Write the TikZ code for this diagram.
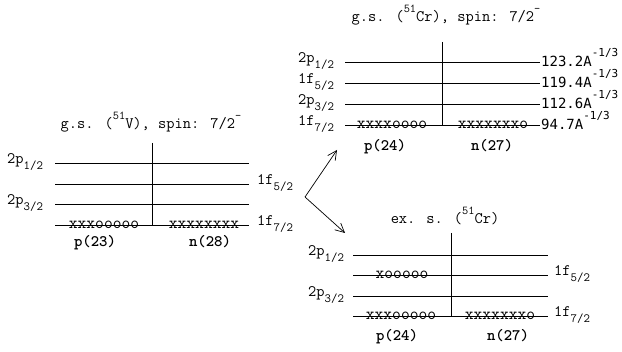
\documentclass[tikz,border=0pt]{standalone}
\usepackage{fontspec}
\newfontfamily\monosans{DejaVu Sans Mono}
\usetikzlibrary{arrows.meta}
\newcommand\lsb[1]{\raisebox{-0.36em}{\fontsize{12.5}{13}\selectfont #1}}
\newcommand\lsp[1]{\raisebox{0.6em}{\fontsize{12}{13}\selectfont #1}}
\newcommand\esp[1]{\raisebox{0.75em}{\fontsize{11}{12}\selectfont #1}}
\begin{document}
\begin{tikzpicture}[x=1pt,y=-1pt,
  lvl/.style={line width=0.8pt},
  ttl/.style={inner sep=0pt, anchor=base, font=\ttfamily\fontsize{16}{18}\selectfont},
  lab/.style={inner sep=0pt, anchor=base west, font=\ttfamily\fontsize{16}{18}\selectfont},
  elab/.style={inner sep=0pt, anchor=base west, font=\monosans\fontsize{14}{16}\selectfont},
  occ/.style={inner sep=0pt, anchor=base, font=\ttfamily\fontsize{17}{19}\selectfont},
  pn/.style={inner sep=0pt, anchor=base, font=\ttfamily\bfseries\fontsize{16}{18}\selectfont},
  arr/.style={line width=0.7pt, -{Straight Barb[length=9pt,width=9pt,line width=0.7pt]}}]
\useasboundingbox (0,0) rectangle (622,352);
% ---------- left panel: g.s. 51V ----------
\node[ttl] (t1) at (151,129) {g.s. (\lsp{51}V), spin: 7/2\lsp{-}};
\foreach \y in {163,184,204,225} \draw[lvl] (55,\y) -- (249,\y);
\draw[lvl] (152,143) -- (152,225);
\node[lab] (a1) at (7,164) {2p\lsb{1/2}};
\node[lab] (a2) at (7,205) {2p\lsb{3/2}};
\node[lab] (a3) at (257,185) {1f\lsb{5/2}};
\node[lab] (a4) at (257,226) {1f\lsb{7/2}};
\node[occ] (o1) at (104,228.3) {xxxooooo};
\node[occ] (o2) at (204,228.3) {xxxxxxxx};
\node[pn] (p1) at (95,247) {p(23)};
\node[pn] (n1) at (210,247) {n(28)};
% ---------- upper right: g.s. 51Cr ----------
\node[ttl] (t2) at (446,22) {g.s. (\lsp{51}Cr), spin: 7/2\lsp{-}};
\foreach \y in {62,83,104,125} \draw[lvl] (345,\y) -- (540,\y);
\draw[lvl] (442,42) -- (442,125);
\node[lab] (b1) at (298,63) {2p\lsb{1/2}};
\node[lab] (b2) at (298,84) {1f\lsb{5/2}};
\node[lab] (b3) at (298,105) {2p\lsb{3/2}};
\node[lab] (b4) at (298,126) {1f\lsb{7/2}};
\node[elab] (e1) at (541,67) {123.2A\esp{-1/3}};
\node[elab] (e2) at (541,88) {119.4A\esp{-1/3}};
\node[elab] (e3) at (541,109) {112.6A\esp{-1/3}};
\node[elab] (e4) at (541,130) {94.7A\esp{-1/3}};
\node[occ] (o3) at (392,128.3) {xxxxoooo};
\node[occ] (o4) at (493,128.3) {xxxxxxxo};
\node[pn] (p2) at (385,151) {p(24)};
\node[pn] (n2) at (492,151) {n(27)};
% ---------- lower right: ex. s. 51Cr ----------
\node[ttl] (t3) at (445,224) {ex. s. (\lsp{51}Cr)};
\foreach \y in {255,275,296,316} \draw[lvl] (353,\y) -- (548,\y);
\draw[lvl] (451,233) -- (451,316);
\node[lab] (c1) at (308,256) {2p\lsb{1/2}};
\node[lab] (c2) at (308,297) {2p\lsb{3/2}};
\node[lab] (c3) at (554,276) {1f\lsb{5/2}};
\node[lab] (c4) at (554,317) {1f\lsb{7/2}};
\node[occ] (o5) at (402,278.3) {xooooo};
\node[occ] (o6) at (401,319.3) {xxxooooo};
\node[occ] (o7) at (500,319.3) {xxxxxxxo};
\node[pn] (p3) at (397,341) {p(24)};
\node[pn] (n3) at (508,341) {n(27)};
% ---------- arrows ----------
\coordinate (s) at (305,197);
\coordinate (u) at (337,150);
\coordinate (d) at (345,233);
\draw[arr] (s) -- (u);
\draw[arr] (s) -- (d);
\end{tikzpicture}
\end{document}
